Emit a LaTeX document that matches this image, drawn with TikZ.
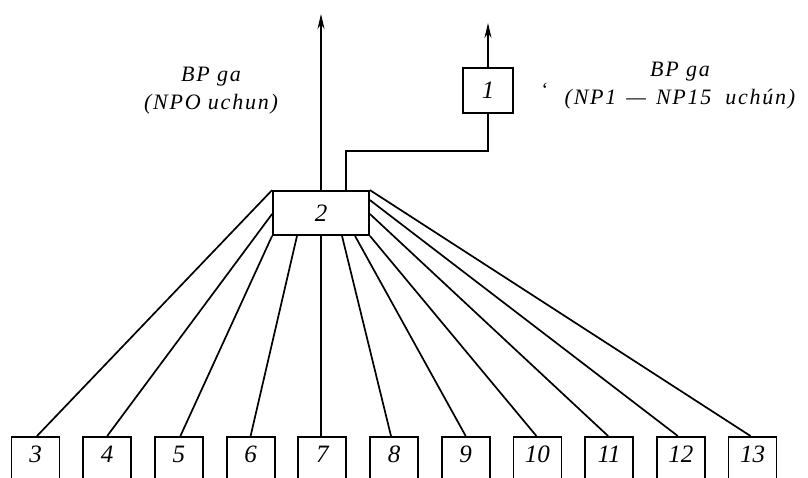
\documentclass[tikz,border=0pt]{standalone}
\usepackage{fontspec}
\setmainfont{Liberation Serif}
\newfontfamily\lblfont[LetterSpace=8]{Liberation Serif}
\usetikzlibrary{arrows.meta}
\tikzset{
  box/.style={draw, line width=1.8pt, inner sep=0pt, font=\fontsize{25}{25}\selectfont\itshape},
  botbox/.style={box, anchor=north, minimum width=48pt, inner ysep=0pt, text height=26pt, text depth=34pt},
  wire/.style={line width=1.7pt},
  arr/.style={line width=2pt, -{Stealth[length=15pt,width=7pt]}},
  lbl/.style={align=center, font=\lblfont\fontsize{22}{28}\selectfont\itshape, inner sep=0pt}
}
\begin{document}
\begin{tikzpicture}[x=1pt,y=-1pt]
\useasboundingbox (0,0) rectangle (808,478);
\clip (0,0) rectangle (808,478);
% upper boxes
\node[box, minimum width=96pt, minimum height=44pt] (b2) at (321,213) {2};
\node[box, minimum width=50pt, minimum height=45pt] (b1) at (488,90.5) {1};
% lower boxes
\foreach \i [count=\k from 0] in {3,...,13}
  \node[botbox] (n\i) at ({35.5+71.7*\k},436) {\i};
% output arrows
\coordinate (top2) at (321,14);
\coordinate (top1) at (488,23);
\draw[arr] (b2.north) -- (top2);
\draw[arr] (b1.north) -- (top1);
% link between 1 and 2
\coordinate (k1) at (488,151);
\coordinate (k2) at (346,151);
\draw[wire] (b1.south) -- (k1) -- (k2) -- (k2 |- b2.north);
% fan lines
\draw[wire] (b2.north west) -- ([xshift=1.5pt]n3.north);
\draw[wire] ([yshift=-1pt]b2.west) -- (n4.north);
\draw[wire] (b2.south west) -- ([xshift=1.5pt]n5.north);
\draw[wire] ([xshift=-24pt]b2.south) -- (n6.north);
\draw[wire] (n7.north -| b2.south) -- (b2.south);
\draw[wire] ([xshift=21pt]b2.south) -- ([xshift=-3pt]n8.north);
\draw[wire] ([xshift=34pt]b2.south) -- (n9.north);
\draw[wire] (b2.south east) -- ([xshift=-1pt]n10.north);
\draw[wire] ([yshift=-1pt]b2.east) -- ([xshift=-1pt]n11.north);
\draw[wire] ([yshift=-10pt]b2.north east) -- ([xshift=-3pt]n12.north);
\draw[wire] (b2.north east) -- ([xshift=-2pt]n13.north);
% labels
\node[lbl] (t1) at (211,91) {BP ga\\(NPO uchun)};
\node[lbl] (t2) at (680,86) {BP ga\\(NP1\kern10pt—\kern10pt NP15\kern14pt uchún)};
\node[font=\fontsize{20}{20}\selectfont, inner sep=0pt] (tick) at (545,90) {`};
\end{tikzpicture}
\end{document}
